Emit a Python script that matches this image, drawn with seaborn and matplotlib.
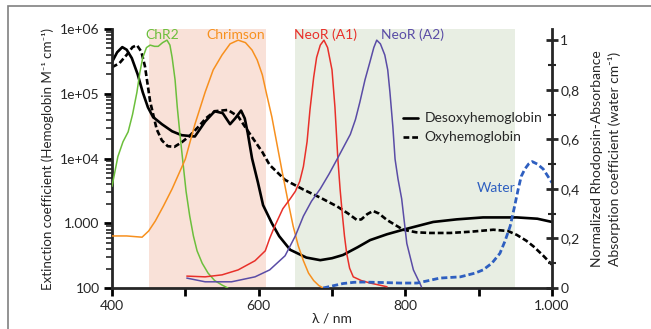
import seaborn as sns
import matplotlib.pyplot as plt
from matplotlib.lines import Line2D
from matplotlib.patches import Rectangle
from matplotlib.ticker import FixedLocator, FixedFormatter, LogLocator, MultipleLocator

# --- data (wavelength in nm) ---
# hemoglobin, left log axis (M^-1 cm^-1), given as log10 values
deoxy_nm = [400, 407, 414, 420, 427, 435, 442, 449, 456, 468, 482, 495, 513, 527, 540, 551, 561,
            568, 576, 581, 585, 591, 599, 606, 618, 628, 643, 665, 684, 700, 715, 735, 752, 775,
            797, 838, 870, 906, 952, 980, 1000]
deoxy_log = [5.49, 5.64, 5.72, 5.68, 5.55, 5.30, 5.02, 4.79, 4.64, 4.53, 4.42, 4.36, 4.34, 4.57,
             4.73, 4.70, 4.53, 4.62, 4.74, 4.62, 4.40, 4.0, 3.63, 3.28, 3.0, 2.80, 2.59, 2.47, 2.43,
             2.46, 2.51, 2.63, 2.74, 2.83, 2.90, 3.02, 3.06, 3.09, 3.09, 3.07, 3.02]
oxy_nm = [400, 410, 420, 428, 434, 440, 445, 452, 461, 468, 476, 485, 495, 505, 517, 528, 540, 558,
          572, 582, 591, 605, 615, 636, 661, 685, 707, 722, 734, 740, 748, 756, 764, 775, 797, 815,
          834, 861, 890, 920, 940, 952, 965, 975, 988, 1000]
oxy_log = [5.41, 5.47, 5.60, 5.72, 5.75, 5.65, 5.42, 4.88, 4.45, 4.28, 4.19, 4.18, 4.25, 4.34, 4.48,
           4.62, 4.73, 4.75, 4.65, 4.48, 4.33, 4.10, 3.90, 3.67, 3.52, 3.39, 3.26, 3.15, 3.05, 3.06,
           3.14, 3.19, 3.15, 3.05, 2.90, 2.86, 2.85, 2.85, 2.87, 2.90, 2.88, 2.82, 2.73, 2.64, 2.50,
           2.36]

# normalized rhodopsin absorbance, right axis
chr2_nm = [400, 404, 408, 415, 422, 428, 434, 438, 442, 447, 452, 458, 463, 469, 475, 479, 482, 486,
           489, 493, 497, 501, 506, 511, 516, 523, 531, 540, 550, 558]
chr2 = [0.41, 0.47, 0.53, 0.59, 0.63, 0.70, 0.79, 0.87, 0.93, 0.97, 0.98, 0.975, 0.975, 0.99, 1.0,
        0.98, 0.93, 0.84, 0.73, 0.61, 0.50, 0.39, 0.29, 0.21, 0.15, 0.10, 0.06, 0.03, 0.012, 0.0]
chrimson_nm = [400, 420, 441, 450, 459, 470, 482, 491, 500, 513, 527, 538, 550, 561, 572, 582, 591,
               598, 605, 611, 618, 625, 632, 640, 647, 654, 661, 668, 675, 682, 688]
chrimson = [0.21, 0.21, 0.205, 0.23, 0.27, 0.33, 0.40, 0.46, 0.52, 0.66, 0.79, 0.88, 0.94, 0.985,
            1.0, 0.99, 0.96, 0.92, 0.86, 0.78, 0.69, 0.58, 0.47, 0.35, 0.25, 0.17, 0.11, 0.06, 0.03,
            0.01, 0.0]
neor_a1_nm = [502, 527, 550, 572, 595, 609, 615, 622, 633, 643, 650, 656, 661, 666, 670, 675, 679,
              684, 689, 694, 700, 704, 708, 711, 714, 717, 720, 724, 729, 740, 752, 775]
neor_a1 = [0.048, 0.045, 0.053, 0.073, 0.11, 0.15, 0.20, 0.25, 0.32, 0.36, 0.39, 0.43, 0.49, 0.59,
           0.72, 0.85, 0.93, 0.98, 1.0, 0.97, 0.88, 0.73, 0.52, 0.40, 0.30, 0.21, 0.14, 0.08, 0.045,
           0.03, 0.02, 0.005]
neor_a2_nm = [502, 527, 563, 595, 615, 636, 650, 661, 672, 684, 696, 707, 716, 725, 732, 738, 745,
              752, 757, 761, 766, 772, 776, 779, 783, 786, 790, 795, 802, 811, 822]
neor_a2 = [0.04, 0.025, 0.025, 0.045, 0.073, 0.13, 0.21, 0.29, 0.35, 0.40, 0.46, 0.52, 0.57, 0.62,
           0.68, 0.75, 0.84, 0.915, 0.97, 1.0, 0.985, 0.94, 0.88, 0.79, 0.65, 0.52, 0.44, 0.36, 0.18,
           0.073, 0.005]

# water absorption coefficient (cm^-1), right axis
water_nm = [688, 700, 715, 730, 742, 756, 770, 793, 816, 832, 847, 875, 895, 906, 918, 929, 936, 943,
            949, 954, 958, 963, 968, 973, 980, 988, 1000]
water = [0.0, 0.008, 0.018, 0.023, 0.024, 0.023, 0.022, 0.02, 0.02, 0.03, 0.04, 0.045, 0.06, 0.073,
         0.10, 0.14, 0.19, 0.25, 0.33, 0.40, 0.45, 0.48, 0.50, 0.51, 0.50, 0.48, 0.425]

left_ticks = [100, 1000, 1e4, 1e5, 1e6]
left_labels = ["100", "1.000", "1e+04", "1e+05", "1e+06"]
x_ticks = [400, 500, 600, 700, 800, 900, 1000]
x_labels = ["400", "", "600", "", "800", "", "1.000"]
right_ticks = [0, 0.2, 0.4, 0.6, 0.8, 1.0]
right_labels = ["0", "0,2", "0,4", "0,6", "0,8", "1"]

sns.set_style("ticks")
plt.rcParams['font.family'] = ['Lato', 'DejaVu Sans']

fig = plt.figure(figsize=(6.51, 3.29), dpi=100)
ax = fig.add_axes([112 / 651, 41 / 329, 440 / 651, 259 / 329])
ax2 = ax.twinx()

# light windows
ax.axvspan(450, 610, color="#f9e1d8", lw=0, zorder=0)
ax.axvspan(650, 950, color="#e8eee3", lw=0, zorder=0)

sns.lineplot(x=deoxy_nm, y=[10 ** v for v in deoxy_log], ax=ax, color="black", lw=1.9)
sns.lineplot(x=oxy_nm, y=[10 ** v for v in oxy_log], ax=ax, color="black", lw=1.9,
             linestyle=(0, (2.2, 1.1)))

sns.lineplot(x=chr2_nm, y=chr2, ax=ax2, color="#6cbf3c", lw=1.1)
sns.lineplot(x=chrimson_nm, y=chrimson, ax=ax2, color="#f7901e", lw=1.1)
sns.lineplot(x=neor_a1_nm, y=neor_a1, ax=ax2, color="#e8302a", lw=1.1)
sns.lineplot(x=neor_a2_nm, y=neor_a2, ax=ax2, color="#5a4ca6", lw=1.1)
sns.lineplot(x=water_nm, y=water, ax=ax2, color="#2e5fc0", lw=2.0, linestyle=(0, (2.2, 1.1)))

ax.set_xlim(400, 1000)
ax.set_yscale("log")
ax.set_ylim(100, 1e6)
ax2.set_ylim(0, 1.045)

ax.yaxis.set_major_locator(FixedLocator(left_ticks))
ax.yaxis.set_major_formatter(FixedFormatter(left_labels))
ax.yaxis.set_minor_locator(LogLocator(base=10, subs=range(2, 10)))
ax.xaxis.set_major_locator(FixedLocator(x_ticks))
ax.xaxis.set_major_formatter(FixedFormatter(x_labels))
ax2.yaxis.set_major_locator(FixedLocator(right_ticks))
ax2.yaxis.set_major_formatter(FixedFormatter(right_labels))
ax2.yaxis.set_minor_locator(MultipleLocator(0.1))

for a in (ax, ax2):
    a.spines["top"].set_visible(False)
    for s in a.spines.values():
        s.set_linewidth(2)
ax.spines["right"].set_visible(False)
ax2.spines["left"].set_visible(False)
ax2.spines["bottom"].set_visible(False)

ax.tick_params(axis="both", which="major", length=6, width=2, labelsize=10, color="black", pad=3)
ax.tick_params(axis="y", which="minor", length=4, width=1.2)
ax2.tick_params(axis="y", which="major", direction="inout", length=8, width=2, labelsize=10, pad=2)
ax2.tick_params(axis="y", which="minor", direction="inout", length=6, width=1.5)

ax.set_xlabel("λ / nm", fontsize=10, labelpad=0)
ax.set_ylabel("Extinction coefficient (Hemoglobin M\u207b\u00b9 cm\u207b\u00b9)", fontsize=9.6, labelpad=4)
ax2.set_ylabel("Normalized Rhodopsin-Absorbance\nAbsorption coefficient (water cm\u207b\u00b9)",
               fontsize=10, labelpad=8, linespacing=1.5)

# curve labels
ax2.text(469, 1.022, "ChR2", color="#6cbf3c", fontsize=10, ha="center", va="center")
ax2.text(569, 1.022, "Chrimson", color="#f7901e", fontsize=10, ha="center", va="center")
ax2.text(691, 1.022, "NeoR (A1)", color="#e8302a", fontsize=10, ha="center", va="center")
ax2.text(767, 1.022, "NeoR (A2)", color="#5a4ca6", fontsize=10, ha="left", va="center")
ax2.text(950, 0.405, "Water", color="#2e5fc0", fontsize=10, ha="right", va="center")

handles = [Line2D([], [], color="black", lw=1.9),
           Line2D([], [], color="black", lw=1.9, linestyle=(0, (2.2, 1.1)))]
ax2.legend(handles, ["Desoxyhemoglobin", "Oxyhemoglobin"], frameon=False, fontsize=10,
           handlelength=1.1, handletextpad=0.5, labelspacing=0.5,
           loc="upper left", bbox_to_anchor=(390 / 651, 229 / 329), bbox_transform=fig.transFigure)

fig.patches.append(Rectangle((8 / 651, -0.1), 1.2, (329 - 6) / 329 + 0.1, transform=fig.transFigure,
                             fill=False, edgecolor="#808080", lw=1.2))

fig.savefig("out.png", dpi=100)
